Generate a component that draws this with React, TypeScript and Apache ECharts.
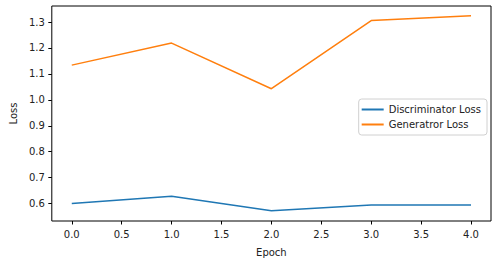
import React, { useEffect, useRef } from "react";
import * as echarts from "echarts";

const epochs = [0, 1, 2, 3, 4];
const discriminatorLoss = [0.6, 0.628, 0.572, 0.594, 0.594];
const generatorLoss = [1.134, 1.219, 1.043, 1.306, 1.324];
const xTicks = [0, 0.5, 1, 1.5, 2, 2.5, 3, 3.5, 4];
const yTicks = [0.6, 0.7, 0.8, 0.9, 1.0, 1.1, 1.2, 1.3];

export default function App() {
  const ref = useRef<HTMLDivElement>(null);
  useEffect(() => {
    const chart = echarts.init(ref.current!, null, { renderer: "svg" });
    const font = "DejaVu Sans";
    chart.setOption({
      animation: false,
      grid: {
        left: 44,
        right: 6,
        top: 6,
        bottom: 38,
        show: true,
        borderColor: "#000",
        borderWidth: 1,
        backgroundColor: "transparent",
      },
      legend: {
        orient: "vertical",
        right: 10,
        top: 99,
        data: ["Discriminator Loss", "Generatror Loss"],
        icon: "rect",
        itemWidth: 22,
        itemHeight: 2,
        itemGap: 2,
        padding: [4, 6, 4, 3],
        borderColor: "#d0d0d0",
        borderWidth: 1,
        borderRadius: 3,
        backgroundColor: "#fff",
        textStyle: { fontFamily: font, fontSize: 10, color: "#222", lineHeight: 13 },
      },
      xAxis: {
        type: "value",
        min: -0.2,
        max: 4.2,
        name: "Epoch",
        nameLocation: "middle",
        nameGap: 26,
        nameTextStyle: { fontFamily: font, fontSize: 10, color: "#222" },
        axisLine: { show: false, onZero: false },
        splitLine: { show: false },
        axisTick: { show: true, length: 3.5, customValues: xTicks, lineStyle: { color: "#000" } },
        axisLabel: {
          customValues: xTicks,
          fontFamily: font,
          fontSize: 10,
          color: "#222",
          margin: 8,
          formatter: (v: number) => v.toFixed(1),
        },
      },
      yAxis: {
        type: "value",
        min: 0.5327,
        max: 1.362,
        name: "Loss",
        nameLocation: "middle",
        nameGap: 32,
        nameTextStyle: { fontFamily: font, fontSize: 10, color: "#222" },
        axisLine: { show: false, onZero: false },
        splitLine: { show: false },
        axisTick: { show: true, length: 3.5, customValues: yTicks, lineStyle: { color: "#000" } },
        axisLabel: {
          customValues: yTicks,
          fontFamily: font,
          fontSize: 10,
          color: "#222",
          margin: 7,
          formatter: (v: number) => v.toFixed(1),
        },
      },
      series: [
        {
          name: "Discriminator Loss",
          type: "line",
          data: epochs.map((e, i) => [e, discriminatorLoss[i]]),
          showSymbol: false,
          color: "#1f77b4",
          lineStyle: { width: 1.5, color: "#1f77b4" },
        },
        {
          name: "Generatror Loss",
          type: "line",
          data: epochs.map((e, i) => [e, generatorLoss[i]]),
          showSymbol: false,
          color: "#ff7f0e",
          lineStyle: { width: 1.5, color: "#ff7f0e" },
        },
      ],
    });
    return () => chart.dispose();
  }, []);
  return (
    <div
      ref={ref}
      style={{ position: "absolute", left: 0, top: 0, width: 497, height: 262 }}
    />
  );
}
